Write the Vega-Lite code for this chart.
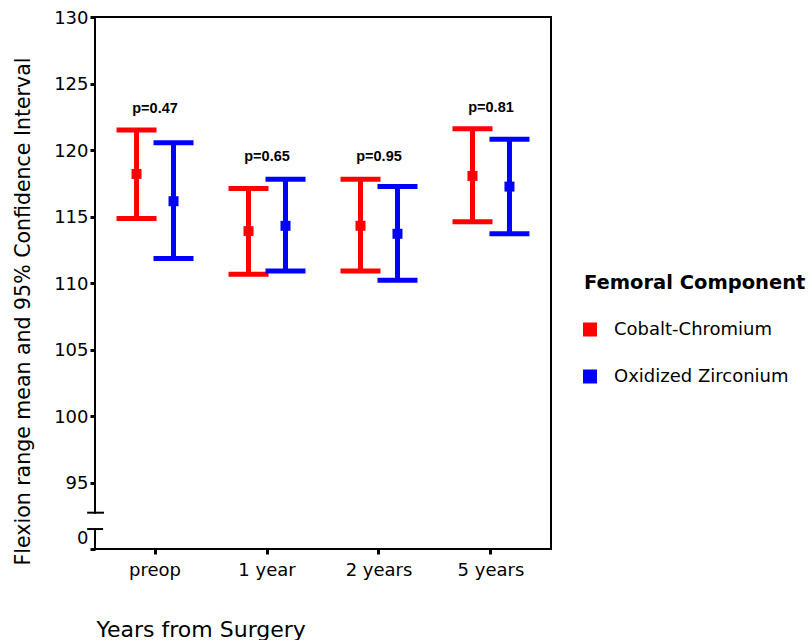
{
  "$schema": "https://vega.github.io/schema/vega-lite/v6.json",
  "width": 456,
  "height": 532,
  "autosize": {"type": "none"},
  "padding": {"left": 95, "top": 17, "right": 258, "bottom": 91},
  "background": "white",
  "config": {"view": {"stroke": null}, "font": "DejaVu Sans", "axis": {"grid": false}},
  "layer": [
    {
      "data": {
        "values": [
          {"cat": "preop", "group": "Cobalt-Chromium", "mean": 118.2, "lo": 114.85, "hi": 121.5},
          {"cat": "preop", "group": "Oxidized Zirconium", "mean": 116.15, "lo": 111.85, "hi": 120.55},
          {"cat": "1 year", "group": "Cobalt-Chromium", "mean": 113.9, "lo": 110.65, "hi": 117.1},
          {"cat": "1 year", "group": "Oxidized Zirconium", "mean": 114.3, "lo": 110.9, "hi": 117.8},
          {"cat": "2 years", "group": "Cobalt-Chromium", "mean": 114.3, "lo": 110.9, "hi": 117.8},
          {"cat": "2 years", "group": "Oxidized Zirconium", "mean": 113.7, "lo": 110.2, "hi": 117.25},
          {"cat": "5 years", "group": "Cobalt-Chromium", "mean": 118.05, "lo": 114.6, "hi": 121.6},
          {"cat": "5 years", "group": "Oxidized Zirconium", "mean": 117.25, "lo": 113.7, "hi": 120.8}
        ]
      },
      "encoding": {
        "x": {
          "field": "cat", "type": "nominal",
          "sort": ["preop", "1 year", "2 years", "5 years"],
          "scale": {"paddingInner": 0, "paddingOuter": 0.036},
          "axis": {
            "title": "Years from Surgery",
            "domain": false, "grid": false,
            "tickSize": 5, "tickWidth": 3, "tickColor": "black",
            "labelFont": "DejaVu Sans", "labelFontSize": 18, "labelColor": "black",
            "labelPadding": 7, "labelAngle": 0,
            "titleFont": "DejaVu Sans", "titleFontSize": 22, "titleFontWeight": "normal",
            "titleColor": "black", "titleX": 1, "titleY": 87,
            "titleAlign": "left", "titleBaseline": "alphabetic", "titleAnchor": "start"
          }
        },
        "color": {
          "field": "group", "type": "nominal",
          "scale": {"domain": ["Cobalt-Chromium", "Oxidized Zirconium"], "range": ["#ff0000", "#0000ff"]},
          "legend": {
            "orient": "none", "legendX": 489, "legendY": 257,
            "title": "Femoral Component",
            "titleFont": "DejaVu Sans", "titleFontSize": 19.5, "titleFontWeight": "bold", "titleColor": "black",
            "titlePadding": 27, "titleLimit": 400,
            "labelFont": "DejaVu Sans", "labelFontSize": 18, "labelColor": "black",
            "labelOffset": 15, "labelLimit": 400,
            "symbolType": "square", "symbolSize": 196, "symbolStrokeWidth": 0, "symbolOpacity": 1,
            "symbolOffset": -3,
            "rowPadding": 29, "padding": 0
          }
        }
      },
      "layer": [
        {
          "mark": {"type": "rule", "strokeWidth": 5},
          "encoding": {
            "xOffset": {"field": "group", "type": "nominal", "scale": {"paddingInner": 0, "paddingOuter": 0.514}},
            "y": {
              "field": "lo", "type": "quantitative",
              "scale": {"domain": [90, 130], "nice": false, "zero": false},
              "axis": {
                "title": "Flexion range mean and 95% Confidence Interval",
                "values": [90, 95, 100, 105, 110, 115, 120, 125, 130],
                "labelExpr": "datum.value == 90 ? '0' : datum.label",
                "domain": false, "grid": false,
                "tickSize": 5, "tickWidth": 3, "tickColor": "black",
                "labelFont": "DejaVu Sans", "labelFontSize": 18, "labelColor": "black",
                "labelPadding": 2,
                "labelOffset": {"condition": {"test": "datum.value == 90", "value": -11}, "value": 1},
                "titleFont": "DejaVu Sans", "titleFontSize": 20.5, "titleFontWeight": "normal",
                "titleColor": "black", "titlePadding": 20, "titleY": 294
              }
            },
            "y2": {"field": "hi"}
          }
        },
        {
          "mark": {"type": "tick", "orient": "horizontal", "size": 40, "thickness": 5, "opacity": 1},
          "encoding": {
            "xOffset": {"field": "group", "type": "nominal", "scale": {"paddingInner": 0, "paddingOuter": 0.514}},
            "y": {"field": "lo", "type": "quantitative", "scale": {"domain": [90, 130], "nice": false, "zero": false}}
          }
        },
        {
          "mark": {"type": "tick", "orient": "horizontal", "size": 40, "thickness": 5, "opacity": 1},
          "encoding": {
            "xOffset": {"field": "group", "type": "nominal", "scale": {"paddingInner": 0, "paddingOuter": 0.514}},
            "y": {"field": "hi", "type": "quantitative", "scale": {"domain": [90, 130], "nice": false, "zero": false}}
          }
        },
        {
          "mark": {"type": "point", "shape": "square", "filled": true, "size": 100, "opacity": 1},
          "encoding": {
            "xOffset": {"field": "group", "type": "nominal", "scale": {"paddingInner": 0, "paddingOuter": 0.514}},
            "y": {"field": "mean", "type": "quantitative", "scale": {"domain": [90, 130], "nice": false, "zero": false}}
          }
        },
        {
          "data": {
            "values": [
              {"cat": "preop", "py": 122.8, "label": "p=0.47"},
              {"cat": "1 year", "py": 119.15, "label": "p=0.65"},
              {"cat": "2 years", "py": 119.15, "label": "p=0.95"},
              {"cat": "5 years", "py": 122.85, "label": "p=0.81"}
            ]
          },
          "mark": {"type": "text", "font": "Liberation Sans", "fontSize": 14.5, "fontWeight": "bold", "baseline": "alphabetic", "align": "center"},
          "encoding": {
            "color": {"value": "black"},
            "y": {"field": "py", "type": "quantitative", "scale": {"domain": [90, 130], "nice": false, "zero": false}},
            "text": {"field": "label"}
          }
        }
      ]
    },
    {
      "data": {
        "values": [
          {"x": 0, "x2": 0, "y": 92.73, "y2": 130},
          {"x": 0, "x2": 0, "y": 90, "y2": 91.5},
          {"x": 0, "x2": 1, "y": 130, "y2": 130},
          {"x": 1, "x2": 1, "y": 90, "y2": 130},
          {"x": 0, "x2": 1, "y": 90, "y2": 90},
          {"x": -0.015, "x2": 0.0175, "y": 92.73, "y2": 92.73},
          {"x": -0.015, "x2": 0.0155, "y": 91.5, "y2": 91.5}
        ]
      },
      "mark": {"type": "rule", "color": "black", "strokeWidth": 2, "strokeCap": "square"},
      "encoding": {
        "x": {"field": "x", "type": "quantitative", "scale": {"domain": [0, 1], "nice": false, "zero": false}, "axis": null},
        "x2": {"field": "x2"},
        "y": {"field": "y", "type": "quantitative", "scale": {"domain": [90, 130], "nice": false, "zero": false}},
        "y2": {"field": "y2"}
      }
    }
  ],
  "resolve": {"scale": {"x": "independent"}}
}
